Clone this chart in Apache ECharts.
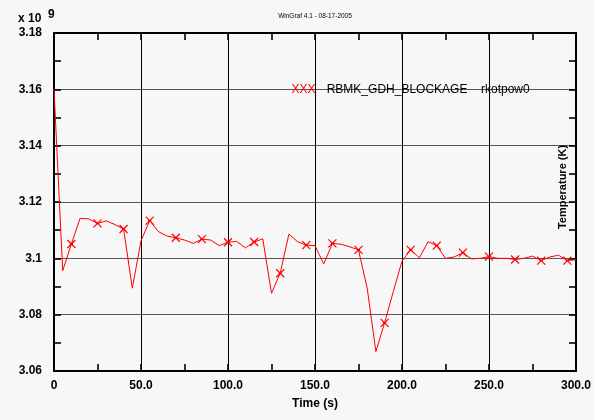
<!DOCTYPE html>
<html>
<head>
<meta charset="utf-8">
<script src="https://cdn.jsdelivr.net/npm/echarts@6/dist/echarts.min.js"></script>
<style>
  html, body { margin: 0; padding: 0; background: #f7f7f7; }
  #chart { width: 594px; height: 420px; }
</style>
</head>
<body>
<div id="chart"></div>
<script>
// Time samples (s)
const times = [0, 5, 10, 15, 20, 25, 30, 35, 40, 45, 50, 55, 60, 65, 70, 75, 80, 85, 90, 95,
  100, 105, 110, 115, 120, 125, 130, 135, 140, 145, 150, 155, 160, 165, 170, 175, 180, 185, 190, 195,
  200, 205, 210, 215, 220, 225, 230, 235, 240, 245, 250, 255, 260, 265, 270, 275, 280, 285, 290, 295, 300];

// rkotpow0 for RBMK_GDH_BLOCKAGE, in units of 1e9
const rkotpow0 = [3.1600, 3.0956, 3.1051, 3.1142, 3.1140, 3.1124, 3.1133, 3.1120, 3.1104, 3.0894,
  3.1062, 3.1134, 3.1095, 3.1079, 3.1073, 3.1065, 3.1053, 3.1068, 3.1065, 3.1045,
  3.1057, 3.1060, 3.1037, 3.1058, 3.1069, 3.0876, 3.0947, 3.1086, 3.1059, 3.1047,
  3.1045, 3.0980, 3.1053, 3.1050, 3.1041, 3.1030, 3.0894, 3.0669, 3.0771, 3.0882,
  3.0990, 3.1030, 3.1002, 3.1059, 3.1045, 3.1000, 3.1005, 3.1020, 3.0998, 3.1000,
  3.1006, 3.1000, 3.1000, 3.0996, 3.1000, 3.1008, 3.0992, 3.1005, 3.1011, 3.0992, 3.0995];

// Samples that carry an "X" marker
const markedTimes = [10, 25, 40, 55, 70, 85, 100, 115, 130, 145, 160, 175, 190, 205, 220, 235, 250, 265, 280, 295];

// Axis tick labels
const xTickLabels = ['0', '50.0', '100.0', '150.0', '200.0', '250.0', '300.0'];
const yTickLabels = ['3.06', '3.08', '3.1', '3.12', '3.14', '3.16', '3.18'];

const FONT = '"Liberation Sans", Arial, Helvetica, sans-serif';

const chart = echarts.init(document.getElementById('chart'), null, { renderer: 'canvas' });

const seriesData = times.map((t, i) => [t, rkotpow0[i]]);

const tickCommon = {
  axisLine: { show: true, onZero: false, lineStyle: { color: '#000', width: 2 } },
  axisTick: { show: true, inside: true, length: 7, lineStyle: { color: '#000', width: 1.6 } },
  minorTick: { show: true, splitNumber: 2, length: 7, lineStyle: { color: '#000', width: 1.6 } }
};

function label(text, x, y, extra) {
  return {
    type: 'text', x: x, y: y, z: 10,
    style: Object.assign({
      text: text, fontFamily: FONT, fontSize: 12, fill: '#000',
      align: 'left', verticalAlign: 'middle'
    }, extra || {})
  };
}

chart.setOption({
  animation: false,
  backgroundColor: '#f7f7f7',
  grid: { left: 54, top: 33, right: 13, bottom: 49, containLabel: false },
  xAxis: [
    Object.assign({
      type: 'value', position: 'bottom', min: 0, max: 300, interval: 50,
      name: 'Time (s)', nameLocation: 'middle', nameGap: 27,
      nameTextStyle: { fontFamily: FONT, fontWeight: 'bold', fontSize: 12, color: '#000' },
      axisLabel: {
        margin: 9, fontFamily: FONT, fontWeight: 'bold', fontSize: 12, color: '#000',
        formatter: (v, idx) => xTickLabels[idx]
      },
      splitLine: { show: true, lineStyle: { color: '#000', width: 1 } }
    }, tickCommon),
    Object.assign({
      type: 'value', position: 'top', min: 0, max: 300, interval: 50,
      axisLabel: { show: false }, splitLine: { show: false }
    }, tickCommon)
  ],
  yAxis: [
    Object.assign({
      type: 'value', position: 'left', min: 3.06, max: 3.18, interval: 0.02,
      axisLabel: {
        margin: 12, fontFamily: FONT, fontWeight: 'bold', fontSize: 12, color: '#000',
        formatter: (v, idx) => yTickLabels[idx]
      },
      splitLine: { show: true, lineStyle: { color: '#555', width: 1 } }
    }, tickCommon),
    Object.assign({
      type: 'value', position: 'right', min: 3.06, max: 3.18, interval: 0.02,
      axisLabel: { show: false }, splitLine: { show: false }
    }, tickCommon)
  ],
  series: [{
    name: 'RBMK_GDH_BLOCKAGE',
    type: 'line',
    data: seriesData,
    xAxisIndex: 0,
    yAxisIndex: 0,
    lineStyle: { color: '#ff0000', width: 1 },
    symbol: (value) => markedTimes.indexOf(value[0]) >= 0 ? 'path://M0,0L10,10M10,0L0,10M3,5L7,5' : 'none',
    symbolSize: 8,
    showAllSymbol: true,
    itemStyle: { color: '#ff0000', borderColor: '#ff0000', borderWidth: 1.2 },
    z: 5
  }],
  graphic: [
    label('WinGraf 4.1 - 08-17-2005', 315, 16, { fontSize: 6.5, align: 'center' }),
    label('x 10', 18, 19, { fontWeight: 'bold' }),
    label('9', 48, 15, { fontWeight: 'bold' }),
    Object.assign(label('Temperature (K)', 563, 187, { fontWeight: 'bold', fontSize: 11, align: 'center' }),
      { rotation: Math.PI / 2 }),
    label('XXX', 291.5, 90, { fill: '#ff0000' }),
    label('RBMK_GDH_BLOCKAGE', 326.7, 90),
    label('rkotpow0', 481, 90)
  ]
});
</script>
</body>
</html>
